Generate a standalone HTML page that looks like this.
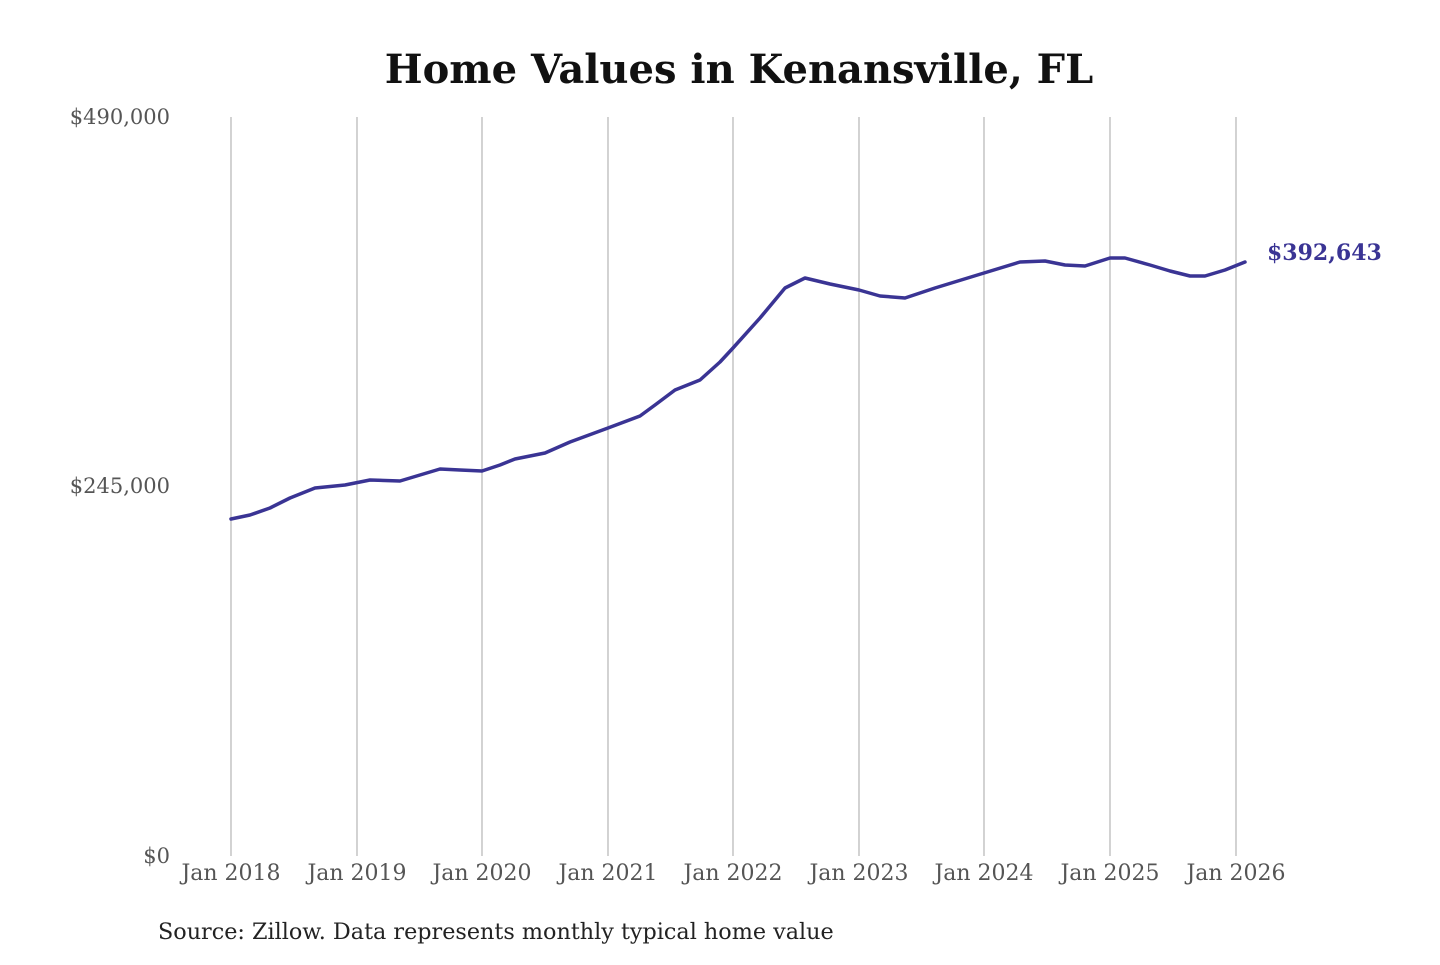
<!DOCTYPE html>
<html><head><meta charset="utf-8"><style>
html,body{margin:0;padding:0;background:#fff;}
body{width:1440px;height:960px;overflow:hidden;}
</style></head><body>
<svg width="1440" height="960" xmlns="http://www.w3.org/2000/svg" font-family="'DejaVu Serif','Liberation Serif',serif">
<text x="739" y="83" text-anchor="middle" font-size="40" font-weight="bold" fill="#111">Home Values in Kenansville, FL</text>
<g stroke="#bbb" stroke-width="1.3">
<line x1="231" y1="117" x2="231" y2="856"/><line x1="357" y1="117" x2="357" y2="856"/>
<line x1="482" y1="117" x2="482" y2="856"/><line x1="608" y1="117" x2="608" y2="856"/>
<line x1="733" y1="117" x2="733" y2="856"/><line x1="859" y1="117" x2="859" y2="856"/>
<line x1="984" y1="117" x2="984" y2="856"/><line x1="1110" y1="117" x2="1110" y2="856"/>
<line x1="1236" y1="117" x2="1236" y2="856"/>
</g>
<g font-size="21" fill="#555" text-anchor="end">
<text x="170" y="124">$490,000</text>
<text x="170" y="493">$245,000</text>
<text x="170" y="863">$0</text>
</g>
<g font-size="22" fill="#555" text-anchor="middle">
<text x="231" y="880">Jan 2018</text><text x="357" y="880">Jan 2019</text>
<text x="482" y="880">Jan 2020</text><text x="608" y="880">Jan 2021</text>
<text x="733" y="880">Jan 2022</text><text x="859" y="880">Jan 2023</text>
<text x="984" y="880">Jan 2024</text><text x="1110" y="880">Jan 2025</text>
<text x="1236" y="880">Jan 2026</text>
</g>
<polyline fill="none" stroke="#3a3494" stroke-width="3.5" stroke-linejoin="round" stroke-linecap="round"
points="231,519 250,515 270,508 290,498 315,488 345,485 370,480 400,481 420,475 440,469 460,470 482,471 500,465 515,459 545,453 570,442 608,428 640,416 655,405 675,390 700,380 720,362 733,348 760,318 785,288 805,278 830,284 859,290 880,296 905,298 935,288 984,273 1020,262 1045,261 1065,265 1085,266 1110,258 1125,258 1150,265 1170,271 1190,276 1205,276 1225,270 1245,262"/>
<text x="1267" y="260" font-size="22" font-weight="bold" fill="#3a3494">$392,643</text>
<text x="158" y="939" font-size="22.3" fill="#222">Source: Zillow. Data represents monthly typical home value</text>
</svg>
</body></html>
